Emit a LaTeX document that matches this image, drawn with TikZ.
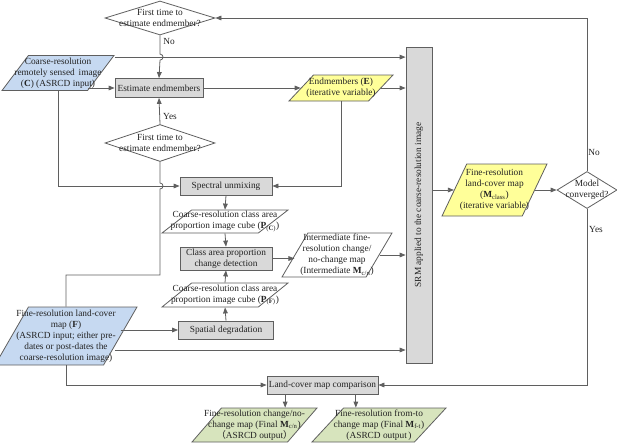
\documentclass[tikz,border=0pt]{standalone}
\usepackage{fontspec}
\setmainfont{Liberation Serif}
\newfontfamily\cjk{Noto Sans CJK SC}
\usetikzlibrary{shapes.geometric,arrows.meta,calc}
\definecolor{ln}{RGB}{95,95,95}
\definecolor{bx}{RGB}{217,217,217}
\definecolor{bl}{RGB}{198,217,241}
\definecolor{yl}{RGB}{255,255,153}
\definecolor{gr}{RGB}{215,228,189}
\definecolor{tx}{RGB}{35,35,35}
\begin{document}
\begin{tikzpicture}[x=0.75pt,y=-0.75pt,
  font=\fontsize{7}{8.3}\selectfont, text=tx,
  box/.style={rectangle, draw=ln, fill=bx, line width=0.6pt, inner sep=1pt, align=center},
  para/.style={trapezium, trapezium left angle=66, trapezium right angle=114,
    trapezium stretches=true, draw=ln, line width=0.6pt, inner sep=1pt},
  dia/.style={diamond, draw=ln, fill=white, line width=0.6pt, inner sep=1pt},
  lbl/.style={align=center, inner sep=0pt},
  arr/.style={draw=ln, line width=0.6pt, -{Triangle[length=4.5pt,width=3.5pt]}},
  con/.style={draw=ln, line width=0.6pt}]
\useasboundingbox (0,0) rectangle (617,443);

% decision diamonds
\node[dia, minimum width=82.5pt, minimum height=25.5pt] (d1) at (160,18) {};
\node[lbl] (d1t) at (d1.center) {First time to\\estimate endmember?};
\node[dia, minimum width=82.5pt, minimum height=27.75pt] (d2) at (160,143) {};
\node[lbl] (d2t) at (d2.center) {First time to\\estimate endmember?};
\node[dia, minimum width=45pt, minimum height=27.75pt] (MC) at (587,190) {};
\node[lbl] (MCt) at (MC.center) {Model\\converged?};

% input parallelograms
\node[para, fill=bl, minimum width=84pt, minimum height=26.25pt] (C) at (58,73) {};
\node[lbl] (Ct) at (C.center) {Coarse-resolution\\remotely sensed\, image\\(\textbf{C}) (ASRCD input)};
\node[para, fill=bl, minimum width=106.5pt, minimum height=43.5pt] (F) at (66,336) {};
\node[lbl] (Ft) at (F.center) {Fine-resolution land-cover\\map (\textbf{F})\\(ASRCD input; either pre-\\dates or post-dates the\\coarse-resolution image)};

% process boxes
\node[box, minimum width=66pt, minimum height=14.25pt] (est) at (159,88) {Estimate endmembers};
\node[box, minimum width=69pt, minimum height=13.5pt] (SU) at (226,186) {Spectral unmixing};
\node[box, minimum width=69pt, minimum height=17.25pt] (CD) at (226,258.5) {Class area proportion\\change detection};
\node[box, minimum width=71.25pt, minimum height=13.5pt] (SD) at (226,330) {Spatial degradation};
\node[box, minimum width=83.25pt, minimum height=13.5pt] (LC) at (322.5,385) {Land-cover map comparison};
\node[box, minimum width=19.5pt, minimum height=237pt] (SRM) at (419,205) {};
\node[lbl, rotate=90] (SRMt) at (SRM.center) {SRM applied to the coarse-resolution image};

% data parallelograms
\node[para, fill=yl, minimum width=78pt, minimum height=19.5pt] (E) at (341,88) {};
\node[lbl] (Et) at (E.center) {Endmembers (\textbf{E})\\(iterative variable)};
\node[para, fill=white, minimum width=94.5pt, minimum height=17.25pt] (PC) at (225,221.5) {};
\node[lbl] (PCt) at (PC.center) {Coarse-resolution class area\\proportion image cube (\textbf{P}\textsubscript{(\textbf{C})})};
\node[para, fill=white, minimum width=94.5pt, minimum height=18pt] (PF) at (225,295) {};
\node[lbl] (PFt) at (PF.center) {Coarse-resolution class area\\proportion image cube (\textbf{P}\textsubscript{(\textbf{F})})};
\node[para, fill=white, minimum width=82.5pt, minimum height=33pt] (I) at (337,255) {};
\node[lbl] (It) at (I.center) {Intermediate fine-\\resolution change/\\no-change map\\(Intermediate \textbf{M}\textsubscript{c/n})};
\node[para, fill=yl, minimum width=78.75pt, minimum height=39pt] (M) at (494.5,190) {};
\node[lbl] (Mt) at (M.center) {Fine-resolution\\land-cover map\\(\textbf{M}\textsubscript{class})\\(iterative variable)};
\node[para, fill=gr, minimum width=93.75pt, minimum height=25.5pt] (O1) at (254.5,425) {};
\node[lbl] (O1t) at (O1.center) {Fine-resolution change/no-\\change map (Final \textbf{M}\textsubscript{c/n})\\{\cjk （}ASRCD output{\cjk ）}};
\node[para, fill=gr, minimum width=100.5pt, minimum height=25.5pt] (O2) at (379,425) {};
\node[lbl] (O2t) at (O2.center) {Fine-resolution from-to\\change map (Final \textbf{M}\textsubscript{f-t})\\(ASRCD output\,)};

% branch labels
\node[lbl] (no1) at (169,41) {No};
\node[lbl] (yes1) at (170,116) {Yes};
\node[lbl] (no2) at (594,152) {No};
\node[lbl] (yes2) at (596,229) {Yes};

% helper coordinates
\coordinate (c1) at ([yshift=-1.5pt]C.top right corner);
\coordinate (h1) at (d1.south |- c1);
\coordinate (h2) at (d2.south |- SU.west);
\coordinate (y275) at (0,275);
\coordinate (f2) at ([xshift=-4.5pt,yshift=-10.5pt]F.east);
\coordinate (l1) at ([xshift=-28pt]LC.south);
\coordinate (l2) at ([xshift=25pt]LC.south);

% connectors
\draw[arr] (c1) -- (c1 -| SRM.west);
\draw[arr] (d1.south) -- ([yshift=2.25pt]h1) .. controls ([xshift=3pt,yshift=2.25pt]h1) and ([xshift=3pt,yshift=-2.25pt]h1) .. ([yshift=-2.25pt]h1) -- (est.north);
\draw[arr] (C.bottom right corner |- est.west) -- (est.west);
\draw[arr] (est.east) -- (E.west);
\draw[arr] (E.east) -- (E.east -| SRM.west);
\draw[arr] (E.south) |- (SU.east);
\draw[arr] (C.south) |- (SU.west);
\draw[arr] (d2.north) -- (est.south);
\draw[con] (d2.south) -- ([yshift=2.25pt]h2) .. controls ([xshift=3pt,yshift=2.25pt]h2) and ([xshift=3pt,yshift=-2.25pt]h2) .. ([yshift=-2.25pt]h2) -- (d2.south |- y275) -| (F.north);
\draw[arr] (SU.south) -- (PC.north);
\draw[arr] (PC.south) -- (CD.north);
\draw[arr] (PF.north) -- (CD.south);
\draw[arr] (SD.north) -- (PF.south);
\draw[arr] (F.east |- SD.west) -- (SD.west);
\draw[arr] (f2) -- (f2 -| SRM.west);
\draw[arr] (F.south) |- (LC.west);
\draw[arr] (CD.east) -- (CD.east -| I.west);
\draw[arr] (I.east) -- (I.east -| SRM.west);
\draw[arr] (SRM.east |- M.west) -- (M.west);
\draw[arr] (M.east) -- (MC.west);
\draw[arr] (MC.north) |- (d1.east);
\draw[arr] (MC.south) |- (LC.east);
\draw[arr] (l1) -- (l1 |- O1.north);
\draw[arr] (l2) -- (l2 |- O2.north);
\end{tikzpicture}
\end{document}
